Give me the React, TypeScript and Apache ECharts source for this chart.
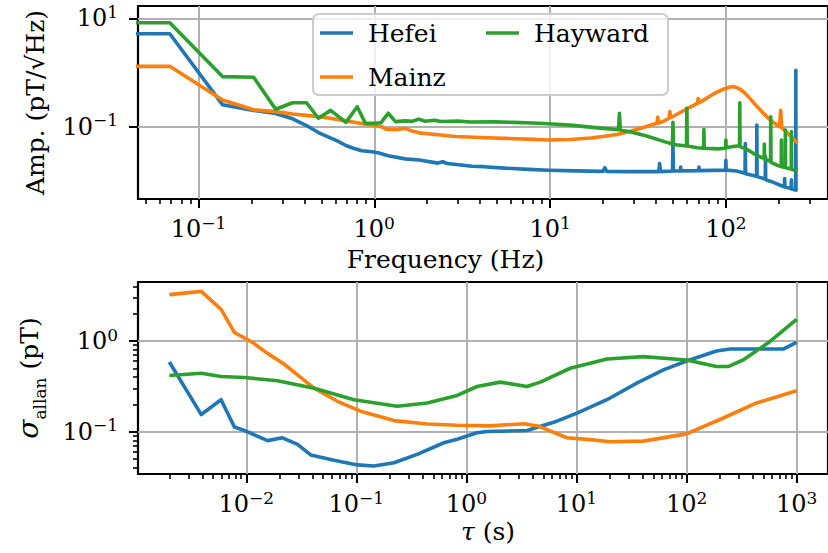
import React, { useEffect, useRef } from 'react';
import * as echarts from 'echarts';

const FONT = 'DejaVu Serif';
const C_HEFEI = '#1f77b4';
const C_MAINZ = '#ff7f0e';
const C_HAYWARD = '#2ca02c';

// ---- Top panel: amplitude spectral density, [frequency (Hz), amplitude (pT/√Hz)]
const hefeiAsd: number[][] = [
  [0.03, 5.2], [0.0687, 5.2], [0.137, 0.255], [0.206, 0.2], [0.275, 0.175], [0.343, 0.14],
  [0.412, 0.105], [0.481, 0.078], [0.55, 0.064], [0.62, 0.054], [0.69, 0.045], [0.76, 0.04],
  [0.85, 0.036], [0.97, 0.0345], [1.05, 0.033], [1.2, 0.029], [1.5, 0.0255], [1.8, 0.0243],
  [2.3, 0.0213], [2.45, 0.0225], [2.6, 0.021], [3.6, 0.0186], [4.2, 0.0183], [5.5, 0.0172],
  [7.5, 0.0163], [9.8, 0.0157], [14, 0.0153], [20, 0.015], [20.5, 0.0175], [21, 0.015],
  [29, 0.0148], [41.5, 0.0148], [42, 0.021], [42.5, 0.0148], [49.7, 0.0152], [50, 0.05],
  [50.3, 0.0152], [55, 0.0153], [55.3, 0.018], [55.6, 0.0153], [70, 0.0155], [70.3, 0.018],
  [70.6, 0.0155], [99.6, 0.0158], [100, 0.024], [100.4, 0.0158], [115, 0.0152], [128.5, 0.0138],
  [129, 0.049], [129.5, 0.0136], [149.5, 0.0122], [150, 0.107], [150.5, 0.012], [167.5, 0.0108],
  [168, 0.028], [168.5, 0.0105], [185, 0.0095], [200, 0.0085], [215, 0.0078], [216, 0.011],
  [217, 0.0077], [235, 0.0072], [236, 0.0105], [237, 0.0071], [249.5, 0.0068], [250, 1.1],
  [250.5, 0.0068], [256, 0.0066],
];
const mainzAsd: number[][] = [
  [0.03, 1.3], [0.0687, 1.3], [0.137, 0.31], [0.206, 0.205], [0.275, 0.19], [0.343, 0.172],
  [0.412, 0.162], [0.481, 0.153], [0.55, 0.145], [0.63, 0.134], [0.69, 0.128], [0.8, 0.118],
  [0.97, 0.107], [1.1, 0.1], [1.17, 0.09], [1.32, 0.088], [1.5, 0.093], [1.64, 0.083],
  [1.8, 0.077], [2.3, 0.071], [2.9, 0.066], [4, 0.063], [5.5, 0.061], [7.5, 0.059], [9.8, 0.057],
  [13, 0.058], [17, 0.062], [20, 0.066], [24, 0.072], [29, 0.083], [35, 0.1], [40.5, 0.116],
  [41, 0.15], [41.5, 0.117], [44.7, 0.128], [47.5, 0.143], [48, 0.19], [48.5, 0.146], [55, 0.183],
  [61, 0.22], [69, 0.27], [69.5, 0.33], [70, 0.275], [77, 0.33], [86, 0.41], [95, 0.48],
  [103, 0.53], [110, 0.55], [118, 0.51], [126, 0.44], [133, 0.37], [145, 0.27], [163, 0.178],
  [180, 0.13], [202, 0.1], [205, 0.2], [208, 0.096], [230, 0.07], [256, 0.05],
];
const haywardAsd: number[][] = [
  [0.03, 8.3], [0.0687, 8.3], [0.137, 0.84], [0.206, 0.82], [0.275, 0.21], [0.343, 0.277],
  [0.412, 0.277], [0.481, 0.143], [0.565, 0.2], [0.69, 0.12], [0.8, 0.234], [0.89, 0.116],
  [1.0, 0.116], [1.09, 0.118], [1.2, 0.177], [1.32, 0.124], [1.5, 0.128], [1.65, 0.126],
  [1.79, 0.138], [1.95, 0.126], [2.2, 0.132], [2.4, 0.125], [3.0, 0.127], [3.5, 0.122],
  [4.86, 0.123], [6.2, 0.12], [8, 0.117], [9.8, 0.113], [13, 0.107], [18.7, 0.095],
  [24.5, 0.088], [24.8, 0.177], [25.1, 0.087], [28.9, 0.08], [35, 0.068], [44.7, 0.053],
  [49.7, 0.048], [50, 0.12], [50.3, 0.047], [59.7, 0.044], [60, 0.219], [60.3, 0.044],
  [69, 0.041], [74.7, 0.04], [75, 0.089], [75.3, 0.04], [90, 0.039], [99.6, 0.04], [100, 0.057],
  [100.4, 0.041], [110, 0.043], [116, 0.044], [119.6, 0.044], [120, 0.277], [120.4, 0.043],
  [130, 0.039], [144, 0.032], [160, 0.027], [165, 0.026], [165.5, 0.048], [166, 0.025],
  [179.5, 0.023], [180, 0.153], [180.5, 0.022], [200, 0.019], [206.5, 0.0185], [207, 0.057],
  [207.5, 0.0183], [217.5, 0.0176], [218, 0.087], [218.5, 0.0175], [235.5, 0.0165], [236, 0.081],
  [236.5, 0.0163], [255, 0.015],
];

// ---- Bottom panel: Allan deviation, [tau (s), sigma (pT)]
const hefeiAdev: number[][] = [
  [0.002, 0.589], [0.0039, 0.155], [0.0059, 0.226], [0.0078, 0.113], [0.0099, 0.102],
  [0.0156, 0.08], [0.0213, 0.086], [0.0292, 0.0726], [0.0385, 0.0556], [0.0628, 0.0485],
  [0.102, 0.0432], [0.1445, 0.042], [0.22, 0.0457], [0.357, 0.0564], [0.624, 0.0758],
  [0.824, 0.083], [1.25, 0.0977], [1.54, 0.101], [3.55, 0.1033], [6.64, 0.131], [10.1, 0.161],
  [18.9, 0.226], [35.3, 0.344], [61.6, 0.481], [100, 0.604], [187, 0.777], [248, 0.817],
  [754, 0.817], [1000, 0.967],
];
const mainzAdev: number[][] = [
  [0.002, 3.25], [0.0039, 3.53], [0.0059, 2.24], [0.0078, 1.245], [0.0114, 0.968],
  [0.0156, 0.733], [0.0221, 0.556], [0.0292, 0.425], [0.0413, 0.303], [0.0673, 0.217],
  [0.109, 0.169], [0.22, 0.133], [0.44, 0.122], [0.824, 0.118], [1.66, 0.1164], [3.3, 0.123],
  [4.56, 0.115], [8.18, 0.086], [13.3, 0.082], [20.2, 0.0777], [40.5, 0.079], [100, 0.095],
  [216, 0.142], [433, 0.208], [1000, 0.283],
];
const haywardAdev: number[][] = [
  [0.002, 0.418], [0.0039, 0.443], [0.0059, 0.407], [0.0096, 0.397], [0.0192, 0.365],
  [0.0413, 0.303], [0.0953, 0.226], [0.235, 0.191], [0.44, 0.208], [0.824, 0.252],
  [1.25, 0.316], [2.03, 0.353], [3.55, 0.316], [4.69, 0.353], [8.77, 0.502], [18.9, 0.635],
  [40.5, 0.675], [100, 0.62], [187, 0.524], [239, 0.524], [327, 0.62], [570, 0.985], [1000, 1.74],
];

// ---- Tick values
const freqMajorTicks = [0.1, 1, 10, 100];
const ampMajorTicks = [0.1, 10];
const tauMajorTicks = [0.01, 0.1, 1, 10, 100, 1000];
const adevMajorTicks = [0.1, 1];

// axis ranges
const FREQ_MIN = 0.0453, FREQ_MAX = 381;
const AMP_MIN = 0.004634, AMP_MAX = 16.87;
const TAU_MIN = 0.001038, TAU_MAX = 1928;
const ADEV_MIN = 0.0343, ADEV_MAX = 4.48;

function minorTicks(lo: number, hi: number): number[] {
  const out: number[] = [];
  for (let d = Math.floor(Math.log10(lo)); d <= Math.ceil(Math.log10(hi)); d++) {
    for (let k = 2; k <= 9; k++) {
      const v = Number((k * Math.pow(10, d)).toPrecision(3));
      if (v >= lo && v <= hi) out.push(v);
    }
  }
  return out;
}

const powLabel = (v: number) => {
  const e = Math.round(Math.log10(v));
  return `{b|10}{s|${e < 0 ? '\u2212' + -e : e}}`;
};
const powRich = {
  b: { fontFamily: FONT, fontSize: 24, lineHeight: 24, color: '#000', verticalAlign: 'bottom' },
  s: { fontFamily: FONT, fontSize: 17, lineHeight: 17, color: '#000', verticalAlign: 'bottom', padding: [0, 0, 10, 0] },
};

function majorAxis(gridIndex: number, min: number, max: number, ticks: number[], margin: number, extra: any) {
  return {
    type: 'log', logBase: 10, gridIndex, min, max,
    axisLine: { show: false },
    axisTick: { show: true, customValues: ticks, length: 9, lineStyle: { color: '#000', width: 2 } },
    axisLabel: { show: true, customValues: ticks, formatter: powLabel, rich: powRich, margin, color: '#000' },
    splitLine: { show: true, lineStyle: { color: '#b0b0b0', width: 2 } },
    minorTick: { show: false },
    minorSplitLine: { show: false },
    nameTextStyle: { fontFamily: FONT, fontSize: 25, color: '#000' },
    ...extra,
  };
}
function minorAxis(gridIndex: number, min: number, max: number, position: string) {
  return {
    type: 'log', logBase: 10, gridIndex, min, max, position,
    axisLine: { show: false },
    axisTick: { show: true, customValues: minorTicks(min, max), length: 5, lineStyle: { color: '#000', width: 1.6 } },
    axisLabel: { show: false },
    splitLine: { show: false },
    minorTick: { show: false },
  };
}

const LW = 3.6;
function lineSeries(name: string, color: string, data: number[][], axisIdx: number, yIdx: number) {
  return {
    type: 'line', name, data, xAxisIndex: axisIdx, yAxisIndex: yIdx,
    symbol: 'none', showSymbol: false, clip: true, silent: true,
    lineStyle: { width: LW, color, join: 'round' },
    itemStyle: { color },
    emphasis: { disabled: true },
  };
}

const legendText = { fontFamily: FONT, fontSize: 25, color: '#000', lineHeight: 25, padding: [0, 0, 0, 10] };

export default function App() {
  const ref = useRef<HTMLDivElement>(null);
  useEffect(() => {
    document.body.style.margin = '0';
    if (!ref.current) return;
    const chart = echarts.init(ref.current, null, { renderer: 'svg' });
    chart.setOption({
      animation: false,
      backgroundColor: '#fff',
      grid: [
        { left: 138, top: 6, width: 693, height: 193, show: true, borderColor: '#000', borderWidth: 2.2, backgroundColor: 'transparent' },
        { left: 138, top: 282, width: 693, height: 192, show: true, borderColor: '#000', borderWidth: 2.2, backgroundColor: 'transparent' },
      ],
      xAxis: [
        majorAxis(0, FREQ_MIN, FREQ_MAX, freqMajorTicks, 18, {
          name: 'Frequency (Hz)', nameLocation: 'middle', nameGap: 48,
          nameTextStyle: { fontFamily: FONT, fontSize: 25, color: '#000', padding: [0, 75, 0, 0] },
        }),
        minorAxis(0, FREQ_MIN, FREQ_MAX, 'bottom'),
        majorAxis(1, TAU_MIN, TAU_MAX, tauMajorTicks, 18, {
          name: '{i|\u03c4} (s)', nameLocation: 'middle', nameGap: 45,
          nameTextStyle: {
            fontFamily: FONT, fontSize: 25, color: '#000', padding: [0, 0, 0, 10],
            rich: { i: { fontFamily: FONT, fontSize: 25, fontStyle: 'italic', color: '#000' } },
          },
        }),
        minorAxis(1, TAU_MIN, TAU_MAX, 'bottom'),
      ],
      yAxis: [
        majorAxis(0, AMP_MIN, AMP_MAX, ampMajorTicks, 20, {
          name: 'Amp. (pT/\u221aHz)', nameLocation: 'middle', nameGap: 90,
        }),
        majorAxis(1, ADEV_MIN, ADEV_MAX, adevMajorTicks, 20, {
          name: '{i|\u03c3}{sub|allan}{t| (pT)}', nameLocation: 'middle', nameGap: 90,
          nameTextStyle: {
            fontFamily: FONT, fontSize: 25, color: '#000',
            rich: {
              i: { fontFamily: FONT, fontSize: 28, lineHeight: 28, fontStyle: 'italic', color: '#000', verticalAlign: 'bottom', padding: [0, 0, 6, 0] },
              sub: { fontFamily: FONT, fontSize: 17, lineHeight: 17, color: '#000', verticalAlign: 'bottom' },
              t: { fontFamily: FONT, fontSize: 25, lineHeight: 25, color: '#000', verticalAlign: 'bottom', padding: [0, 0, 6, 0] },
            },
          },
        }),
        minorAxis(1, ADEV_MIN, ADEV_MAX, 'left'),
      ],
      legend: [
        {
          data: ['Hefei', 'Mainz'], orient: 'vertical', left: 320, top: 20.5, padding: 0,
          itemWidth: 33, itemHeight: 3.5, itemGap: 19, icon: 'rect', selectedMode: false,
          textStyle: legendText, z: 10,
        },
        {
          data: ['Hayward'], orient: 'vertical', left: 486, top: 20.5, padding: 0,
          itemWidth: 33, itemHeight: 3.5, itemGap: 19, icon: 'rect', selectedMode: false,
          textStyle: legendText, z: 10,
        },
      ],
      graphic: [
        {
          type: 'rect', z: 8, silent: true,
          shape: { x: 313, y: 14, width: 355, height: 81, r: 6 },
          style: { fill: 'rgba(255,255,255,0.8)', stroke: '#cccccc', lineWidth: 2 },
        },
      ],
      series: [
        lineSeries('Hefei', C_HEFEI, hefeiAsd, 0, 0),
        lineSeries('Mainz', C_MAINZ, mainzAsd, 0, 0),
        lineSeries('Hayward', C_HAYWARD, haywardAsd, 0, 0),
        lineSeries('Hefei', C_HEFEI, hefeiAdev, 2, 1),
        lineSeries('Mainz', C_MAINZ, mainzAdev, 2, 1),
        lineSeries('Hayward', C_HAYWARD, haywardAdev, 2, 1),
      ],
    });
    return () => chart.dispose();
  }, []);
  return <div ref={ref} style={{ width: 828, height: 553 }} />;
}
